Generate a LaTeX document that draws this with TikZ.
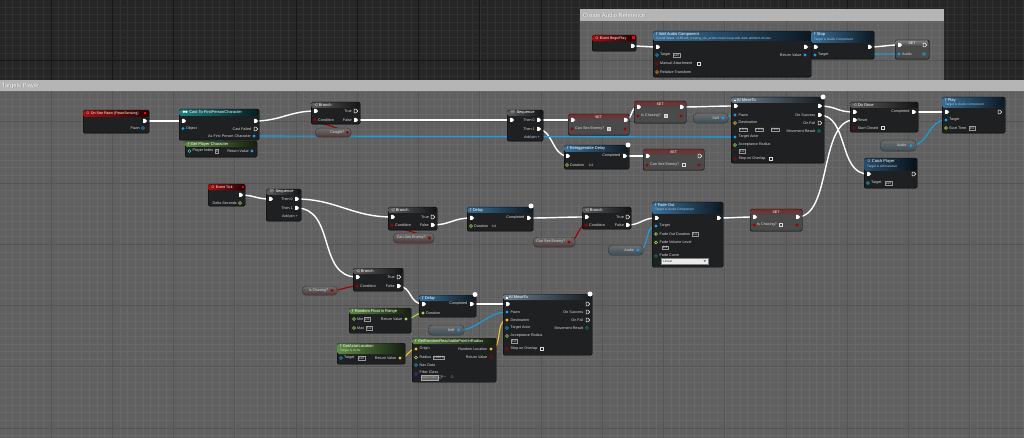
\documentclass[tikz,border=0pt]{standalone}
\usepackage{fontspec}
\setmainfont{Liberation Sans}
\usetikzlibrary{shapes.symbols,calc}
\pgfdeclarelayer{bg}
\pgfdeclarelayer{wires}
\pgfsetlayers{bg,wires,main}
\definecolor{bgdark}{HTML}{262626}
\definecolor{gminorc}{HTML}{313131}
\definecolor{gmajorc}{HTML}{171717}
\definecolor{cmttitle}{HTML}{B5B5B5}
\definecolor{nodebg}{HTML}{1B1C1E}
\definecolor{evred}{HTML}{A01212}
\definecolor{fnblue}{HTML}{3A6E96}
\definecolor{puregreen}{HTML}{5E8A45}
\definecolor{castteal}{HTML}{1E7D80}
\definecolor{macgray}{HTML}{5A5A5A}
\definecolor{latgray}{HTML}{6A7E8E}
\definecolor{setgray}{HTML}{4A4A4A}
\definecolor{setred}{HTML}{7A2A2A}
\definecolor{pilltop}{HTML}{6E6E6E}
\definecolor{pillbot}{HTML}{404040}
\definecolor{lbgray}{HTML}{DADADA}
\definecolor{subblue}{HTML}{A8CCE6}
\definecolor{subgreen}{HTML}{C4E0B0}
\definecolor{boolred}{HTML}{A00000}
\definecolor{objblue}{HTML}{16A0E8}
\definecolor{floatgreen}{HTML}{9EE04C}
\definecolor{vecyel}{HTML}{F2C420}
\definecolor{intteal}{HTML}{20D8A8}
\definecolor{enumteal}{HTML}{008070}
\definecolor{transor}{HTML}{F08A20}
\definecolor{classpurple}{HTML}{6A1FC0}
\newcommand\fs[1]{\fontsize{#1}{#1}\selectfont}
\newcommand\sqicon{\rule{1.8pt}{1.8pt}}
\tikzset{
 nbody/.style={draw=black, fill=nodebg, fill opacity=0.94, rounded corners=1.5pt, inner sep=0, line width=0.4pt},
 setbody/.style={draw=black, fill=setgray, rounded corners=1.5pt, inner sep=0, line width=0.4pt},
 pillbody/.style={draw=black!80, line width=0.4pt, top color=pilltop, rounded corners=4pt, inner sep=0},
 xpin/.style={signal, signal to=east, signal from=nowhere, fill=white, inner sep=0, minimum width=4pt, minimum height=4pt},
 xpino/.style={signal, signal to=east, signal from=nowhere, draw=white, line width=0.45pt, inner sep=0, minimum width=3.6pt, minimum height=3.6pt},
 dpin/.style={circle, fill=#1, inner sep=0, minimum size=3.2pt},
 dpino/.style={circle, draw=#1, line width=0.55pt, inner sep=0, minimum size=2.8pt},
 clk/.style={circle, fill=white, inner sep=0, minimum size=5pt},
 ttl/.style={font=\fs{4}, text=white, anchor=west, inner sep=0},
 sub/.style={font=\fs{3.2}, text=subblue, anchor=west, inner sep=0},
 lb/.style={font=\fs{3.7}, text=lbgray, anchor=west, inner sep=0},
 lbr/.style={font=\fs{3.7}, text=lbgray, anchor=east, inner sep=0},
 vbox/.style={draw=gray!80, line width=0.35pt, font=\fs{3.2}, text=lbgray, inner xsep=0.8pt, inner ysep=0.6pt, anchor=west},
 cbox/.style={draw=lbgray, line width=0.4pt, inner sep=0, minimum size=2.8pt},
 cboxc/.style={cbox, fill=gray!60},
 ctitle/.style={font=\fs{5.8}, text=white, anchor=west, inner sep=0},
 cshadow/.style={font=\fs{5.8}, text=black!55, anchor=west, inner sep=0},
 ew/.style={draw=white, line width=1.4pt},
 dw/.style={draw=#1, line width=1.1pt},
 wire/.style={to path={.. controls ($(\tikztostart)+(#1,0)$) and ($(\tikztotarget)-(#1,0)$) .. (\tikztotarget)}},
 wire/.default=20,
 gminor/.style={draw=gminorc, line width=0.5pt},
 gmajor/.style={draw=gmajorc, line width=0.8pt},
}
% node with coloured header: name x y w h headerheight colour
\newcommand\bp[7]{%
 \node[nbody,minimum width=#4pt,minimum height=#5pt,anchor=north west] (#1) at (#2,#3) {};
 \shade[left color=#7,right color=#7!22!black,rounded corners=1.5pt] ({#2+0.3},{#3+0.3}) rectangle ({#2+#4-0.3},{#3+#6});}
% SET node: name x y w h glow
\newcommand\setn[6]{%
 \node[setbody,minimum width=#4pt,minimum height=#5pt,anchor=north west] (#1) at (#2,#3) {};
 \shade[top color=#6,bottom color=setgray,rounded corners=1.5pt] ({#2+0.3},{#3+0.3}) rectangle ({#2+#4-0.3},{#3+6});
 \node[font=\fs{3.6},text=white,inner sep=0] at ({#2+#4/2},{#3+3.3}) {SET};}
% variable getter: name x y w h glow
\newcommand\pill[6]{%
 \node[pillbody,bottom color=#6!14!pillbot,minimum width=#4pt,minimum height=#5pt,anchor=north west] (#1) at (#2,#3) {};}
\begin{document}
\begin{tikzpicture}[x=1pt,y=-1pt]
\useasboundingbox (0,0) rectangle (1024,438);
\begin{pgfonlayer}{bg}
\fill[bgdark] (0,0) rectangle (1024,438);
\foreach \i in {0,...,135} {\draw[gminor] ({-10.25+7.65625*\i},0) -- ({-10.25+7.65625*\i},438);}
\foreach \i in {0,...,58} {\draw[gminor] (0,{-0.75+7.65625*\i}) -- (1024,{-0.75+7.65625*\i});}
\foreach \i in {0,...,17} {\draw[gmajor] ({-10.25+61.25*\i},0) -- ({-10.25+61.25*\i},438);}
\foreach \i in {0,...,8} {\draw[gmajor] (0,{-0.75+61.25*\i}) -- (1024,{-0.75+61.25*\i});}
% comments
\fill[white,opacity=0.27] (580,21) rectangle (944,80);
\fill[cmttitle] (580,9) rectangle (944,21);
\node[cshadow] at (583.5,15.7) {Create Audio Reference};
\node[ctitle] (cmt1) at (583,15.2) {Create Audio Reference};
\fill[white,opacity=0.27] (0,91) rectangle (1024,438);
\fill[cmttitle] (0,80) rectangle (1024,91);
\node[cshadow] at (2.5,86.5) {Targets Player};
\node[ctitle] (cmt2) at (2,86) {Targets Player};
\end{pgfonlayer}

% ================= Create Audio Reference =================
\bp{beginplay}{592}{35}{44}{16}{6.5}{evred}
\node[ttl] at (595,38.4) {\fs{3.6}$\circ$ Event BeginPlay};
\fill[red] (632.2,36.3) rectangle (634.6,38.7);
\node[xpin] (bp-out) at (632,46) {};

\bp{addaudio}{653}{31}{158}{46}{10}{fnblue}
\node[ttl] at (656,34) {\textit{f} Add Audio Component};
\node[sub] at (656,38.6) {Sound Wave: 1185146\_looping\_ule\_action-music-loop-with-dark-ambient-drones};
\node[xpin] (aa-in) at (657,47) {};
\node[xpin] (aa-out) at (805,47) {};
\node[dpino=objblue] (aa-tgt) at (657,55) {};
\node[lb] at (660,55) {Target};
\node[vbox] at (673,55) {self};
\node[dpin=objblue] (aa-ret) at (805,55) {};
\node[lbr] at (801.5,55) {Return Value};
\node[dpino=boolred] (aa-man) at (657,63.5) {};
\node[lb] at (660,63.5) {Manual Attachment};
\node[cbox] at (699,63.5) {};
\node[dpino=transor] (aa-rel) at (657,72) {};
\node[lb] at (660,72) {Relative Transform};

\bp{stop}{811}{31}{63}{28}{12}{fnblue}
\node[ttl] at (814,34.3) {\textit{f} Stop};
\node[sub] at (814,39.3) {Target is Audio Component};
\node[xpin] (st-in) at (815,47) {};
\node[xpin] (st-out) at (869,47) {};
\node[dpin=objblue] (st-tgt) at (815,55) {};
\node[lb] at (818,55) {Target};

\setn{setaudio}{895}{40}{34}{19}{gray}
\node[xpin] (sa-in) at (899,45) {};
\node[xpino] (sa-out) at (924,45) {};
\node[dpin=objblue] (sa-aud) at (899,54) {};
\node[lb] at (902,54) {Audio};
\node[dpino=objblue] (sa-aout) at (924,54) {};

% ================= Targets Player =================
\bp{seepawn}{83}{110}{66}{23}{7}{evred}
\node[ttl] at (86,113.5) {\fs{3.6}$\circ$ On See Pawn (PawnSensing)};
\fill[red] (144,111.8) rectangle (146.4,114.2);
\node[xpin] (sp-out) at (144,121) {};
\node[dpino=objblue] (sp-pawn) at (143,128) {};
\node[lbr] at (140,128) {Pawn};

\bp{cast}{179}{109}{80}{31}{7}{castteal}
\node[ttl] at (182,112.5) {\fs{3.4}$\bullet\!\bullet$ \fs{4}Cast To FirstPersonCharacter};
\node[xpin] (c-in) at (183,121) {};
\node[xpin] (c-out) at (255,121) {};
\node[dpin=objblue] (c-obj) at (183,128.5) {};
\node[lb] at (186,128.5) {Object};
\node[xpino] (c-fail) at (255,129) {};
\node[lbr] at (251.5,129) {Cast Failed};
\node[dpin=objblue] (c-as) at (254,136) {};
\node[lbr] at (251,136) {As First Person Character};

\bp{gpc}{185}{141}{72}{16}{6}{puregreen}
\node[ttl] at (188,144) {\textit{f} Get Player Character};
\node[dpino=intteal] (gpc-idx) at (189.5,151) {};
\node[lb] at (192.5,151) {Player Index};
\node[vbox] at (215,151) {0};
\node[dpin=objblue] (gpc-ret) at (252,151) {};
\node[lbr] at (249,151) {Return Value};

\bp{br1}{311}{102}{49}{22}{6}{macgray}
\node[ttl] at (314,105) {\fs{3.4}$\triangleleft$ \fs{4}Branch};
\node[xpin] (b1-in) at (315,111) {};
\node[xpino] (b1-true) at (355,111) {};
\node[lbr] at (352,111) {True};
\node[dpin=boolred] (b1-cond) at (315,120) {};
\node[lb] at (318,120) {Condition};
\node[xpin] (b1-false) at (355,120) {};
\node[lbr] at (352,120) {False};

\pill{caught}{315}{128}{36}{9}{boolred}
\node[lbr] at (344.5,132.5) {Caught?};
\node[dpin=boolred] (ca-pin) at (347.5,132.5) {};

\bp{seq1}{507}{110}{36}{31}{6}{macgray}
\node[ttl] at (510,113) {\fs{3.4}$\equiv$ \fs{4}Sequence};
\node[xpin] (s1-in) at (511,120) {};
\node[xpin] (s1-t0) at (538,120) {};
\node[lbr] at (535,120) {Then 0};
\node[xpin] (s1-t1) at (538,129) {};
\node[lbr] at (535,129) {Then 1};
\node[lbr] at (540,138) {Add pin +};

\setn{setcse1}{568}{114}{61}{21}{setred}
\node[xpin] (sc1-in) at (572,120) {};
\node[xpin] (sc1-out) at (625,120) {};
\node[dpin=boolred] (sc1-v) at (572,129) {};
\node[lb] at (575,129) {Can See Enemy?};
\node[cboxc] at (609,129) {};
\node[dpin=boolred] (sc1-vout) at (625,129) {};

\setn{setic1}{634}{101}{52}{22}{setred}
\node[xpin] (si1-in) at (638,107) {};
\node[xpin] (si1-out) at (681,107) {};
\node[dpin=boolred] (si1-v) at (638,116) {};
\node[lb] at (641,116) {Is Chasing?};
\node[cboxc] at (666,116) {};
\node[dpin=boolred] (si1-vout) at (681,116) {};

\pill{self1}{693}{113}{35}{10}{objblue}
\node[lbr] at (719,118) {Self};
\node[dpin=objblue] (self1-pin) at (723,118) {};

\bp{ai1}{731}{97}{93}{66}{6}{latgray}
\node[ttl] at (734,100) {\fs{3.4}\sqicon\ \fs{4}AI MoveTo};
\node[clk] (ai1-clk) at (823,97) {};
\node[xpin] (a1-in) at (735,106) {};
\node[xpin] (a1-out) at (819,106) {};
\node[dpin=objblue] (a1-pawn) at (735,115) {};
\node[lb] at (738.5,115) {Pawn};
\node[xpin] (a1-succ) at (819,115) {};
\node[lbr] at (815.5,115) {On Success};
\node[dpino=vecyel] (a1-dest) at (735,123) {};
\node[lb] at (738.5,122.5) {Destination};
\node[vbox] at (738.5,129.5) {X\,0.0};
\node[vbox] at (754.5,129.5) {Y\,0.0};
\node[vbox] at (770.5,129.5) {Z\,0.0};
\node[xpino] (a1-fail) at (819,123) {};
\node[lbr] at (815.5,123) {On Fail};
\node[dpin=objblue] (a1-tact) at (735,137) {};
\node[lb] at (738.5,137) {Target Actor};
\node[dpino=enumteal] (a1-mres) at (819,131) {};
\node[lbr] at (815.5,131) {Movement Result};
\node[dpino=floatgreen] (a1-acc) at (735,145) {};
\node[lb] at (738.5,144.5) {Acceptance Radius};
\node[vbox] at (739,151) {5.0};
\node[dpino=boolred] (a1-stop) at (735,159) {};
\node[lb] at (738.5,159) {Stop on Overlap};
\node[cbox] at (771,159) {};

\bp{rdelay}{564}{145}{65}{24}{7}{fnblue}
\node[ttl] at (567,148.5) {\textit{f} Retriggerable Delay};
\node[clk] (rd-clk) at (628,145) {};
\node[xpin] (rd-in) at (567,156) {};
\node[xpin] (rd-comp) at (624,156) {};
\node[lbr] at (620.5,156) {Completed};
\node[dpino=floatgreen] (rd-dur) at (567,165) {};
\node[lb] at (570,165) {Duration};
\node[vbox,draw=none] at (588,165) {0.6};

\setn{setcse2}{643}{149}{61}{21}{setred}
\node[xpin] (sc2-in) at (647,156) {};
\node[xpino] (sc2-out) at (699,156) {};
\node[dpin=boolred] (sc2-v) at (647,165) {};
\node[lb] at (650,165) {Can See Enemy?};
\node[cbox] at (684,165) {};
\node[dpin=boolred] (sc2-vout) at (699,165) {};

\bp{doonce}{850}{102}{68}{30}{6}{macgray}
\node[ttl] at (853,104.8) {\fs{3.4}$\triangleleft$ \fs{4}Do Once};
\node[xpin] (do-in) at (854,112) {};
\node[xpin] (do-comp) at (913,112) {};
\node[lbr] at (909.5,112) {Completed};
\node[xpin] (do-reset) at (854,120) {};
\node[lb] at (857.5,120) {Reset};
\node[dpino=boolred] (do-sc) at (854,128) {};
\node[lb] at (857.5,128) {Start Closed};
\node[cbox] at (883,128) {};

\bp{play}{942}{97}{63}{36}{11}{fnblue}
\node[ttl] at (945,100.3) {\textit{f} Play};
\node[sub] at (945,105) {Target is Audio Component};
\node[xpin] (pl-in) at (946,112) {};
\node[xpino] (pl-out) at (999,112) {};
\node[dpin=objblue] (pl-tgt) at (946,120) {};
\node[lb] at (949,120) {Target};
\node[dpino=floatgreen] (pl-st) at (946,128) {};
\node[lb] at (949,128) {Start Time};
\node[vbox] at (969,128) {0.0};

\pill{audio1}{880}{140}{36}{11}{objblue}
\node[lbr] at (906.5,145.5) {Audio};
\node[dpin=objblue] (au1-pin) at (911,145.5) {};

\bp{catch}{864}{158}{53}{30}{13}{fnblue!70!black}
\node[ttl] at (867,161.5) {\fs{3.6}$\circ$ \fs{4}Catch Player};
\node[sub] at (867,166.5) {Target is AICharacter};
\node[xpin] (cp-in) at (868,174) {};
\node[xpino] (cp-out) at (913,174) {};
\node[dpino=objblue] (cp-tgt) at (868,183) {};
\node[lb] at (871,183) {Target};
\node[vbox] at (885,183) {self};

% lower chain
\bp{tick}{208}{184}{37}{22}{6.5}{evred}
\node[ttl] at (211,187.5) {\fs{3.6}$\circ$ Event Tick};
\fill[red] (241.5,185.6) rectangle (243.9,188);
\node[xpin] (tk-out) at (240,195) {};
\node[dpino=floatgreen] (tk-ds) at (240,203) {};
\node[lbr] at (237,203) {Delta Seconds};

\bp{seq2}{266}{189}{35}{32}{6}{macgray}
\node[ttl] at (269,192) {\fs{3.4}$\equiv$ \fs{4}Sequence};
\node[xpin] (s2-in) at (270,199) {};
\node[xpin] (s2-t0) at (296,199) {};
\node[lbr] at (293,199) {Then 0};
\node[xpin] (s2-t1) at (296,208) {};
\node[lbr] at (293,208) {Then 1};
\node[lbr] at (298,216.5) {Add pin +};

\bp{br2}{388}{207}{49}{23}{6}{macgray}
\node[ttl] at (391,210) {\fs{3.4}$\triangleleft$ \fs{4}Branch};
\node[xpin] (b2-in) at (392,217) {};
\node[xpino] (b2-true) at (432,217) {};
\node[lbr] at (429,217) {True};
\node[dpin=boolred] (b2-cond) at (392,225) {};
\node[lb] at (395,225) {Condition};
\node[xpin] (b2-false) at (432,225) {};
\node[lbr] at (429,225) {False};

\pill{cse1}{393}{233}{41}{10}{boolred}
\node[lbr] at (426,238) {Can See Enemy?};
\node[dpin=boolred] (cse1-pin) at (429.5,238) {};

\bp{delay1}{467}{207}{66}{24}{6}{fnblue}
\node[ttl] at (470,210) {\textit{f} Delay};
\node[clk] (d1-clk) at (531,206) {};
\node[xpin] (d1-in) at (471,218) {};
\node[xpin] (d1-comp) at (528,218) {};
\node[lbr] at (524.5,218) {Completed};
\node[dpino=floatgreen] (d1-dur) at (471,226) {};
\node[lb] at (474,226) {Duration};
\node[vbox,draw=none] at (491,226) {0.6};

\pill{cse2}{533}{237}{42}{10}{boolred}
\node[lbr] at (565.5,242) {Can See Enemy?};
\node[dpin=boolred] (cse2-pin) at (569,242) {};

\bp{br3}{582}{207}{49}{22}{6}{macgray}
\node[ttl] at (585,210) {\fs{3.4}$\triangleleft$ \fs{4}Branch};
\node[xpin] (b3-in) at (586,217) {};
\node[xpino] (b3-true) at (627,217) {};
\node[lbr] at (624,217) {True};
\node[dpin=boolred] (b3-cond) at (586,225) {};
\node[lb] at (589,225) {Condition};
\node[xpin] (b3-false) at (627,225) {};
\node[lbr] at (624,225) {False};

\pill{audio2}{608}{245}{35}{10}{objblue}
\node[lbr] at (634,250) {Audio};
\node[dpin=objblue] (au2-pin) at (638,250) {};

\bp{fade}{652}{202}{71}{65}{12}{fnblue}
\node[ttl] at (655,205.3) {\textit{f} Fade Out};
\node[sub] at (655,210) {Target is Audio Component};
\node[xpin] (fo-in) at (656,218) {};
\node[xpin] (fo-out) at (718,218) {};
\node[dpin=objblue] (fo-tgt) at (656,226) {};
\node[lb] at (659.5,226) {Target};
\node[dpino=floatgreen] (fo-dur) at (656,234) {};
\node[lb] at (659.5,234) {Fade Out Duration};
\node[vbox] at (692,234) {5.0};
\node[dpino=floatgreen] (fo-vol) at (656,242.5) {};
\node[lb] at (659.5,241.8) {Fade Volume Level};
\node[vbox] at (662,247.8) {0.0};
\node[dpino=enumteal] (fo-curve) at (656,256) {};
\node[lb] at (659.5,255.3) {Fade Curve};
\node[draw=gray,fill=black!8,line width=0.3pt,minimum width=47pt,minimum height=6pt,inner sep=0,anchor=north west] (fo-dd) at (661,258) {};
\node[font=\fs{3.2},text=black!85,anchor=west,inner sep=0] at (663,261) {Linear};
\fill[black!70] (703.5,260.3) -- (706.3,260.3) -- (704.9,261.8) -- cycle;

\setn{setic2}{750}{209}{52}{22}{setred}
\node[xpin] (si2-in) at (754,217) {};
\node[xpin] (si2-out) at (797,217) {};
\node[dpin=boolred] (si2-v) at (754,225) {};
\node[lb] at (757,225) {Is Chasing?};
\node[cbox] at (781,225) {};
\node[dpin=boolred] (si2-vout) at (797,225) {};

\bp{br4}{353}{268}{50}{23}{6}{macgray}
\node[ttl] at (356,271) {\fs{3.4}$\triangleleft$ \fs{4}Branch};
\node[xpin] (b4-in) at (357,277) {};
\node[xpino] (b4-true) at (398,277) {};
\node[lbr] at (395,277) {True};
\node[dpin=boolred] (b4-cond) at (357,286) {};
\node[lb] at (360,286) {Condition};
\node[xpin] (b4-false) at (398,286) {};
\node[lbr] at (395,286) {False};

\pill{ischase}{302}{286}{35}{9}{boolred}
\node[lbr] at (328.5,290.5) {Is Chasing?};
\node[dpin=boolred] (ic-pin) at (332,290.5) {};

\bp{delay2}{419}{295}{57}{22}{6}{fnblue}
\node[ttl] at (422,298) {\textit{f} Delay};
\node[clk] (d2-clk) at (475,294.5) {};
\node[xpin] (d2-in) at (423,304) {};
\node[xpin] (d2-comp) at (471,304) {};
\node[lbr] at (467.5,304) {Completed};
\node[dpin=floatgreen] (d2-dur) at (423,313) {};
\node[lb] at (426,313) {Duration};

\bp{rfr}{349}{308}{62}{25}{6}{puregreen}
\node[ttl] at (352,311) {\textit{f} Random Float in Range};
\node[dpino=floatgreen] (rf-min) at (354,319) {};
\node[lb] at (357,319) {Min};
\node[vbox] at (364,319) {2.0};
\node[dpino=floatgreen] (rf-max) at (354,328) {};
\node[lb] at (357,328) {Max};
\node[vbox] at (366,328) {5.0};
\node[dpin=floatgreen] (rf-ret) at (406,319) {};
\node[lbr] at (402.5,319) {Return Value};

\pill{self2}{428}{325}{36}{10}{objblue}
\node[lbr] at (454.5,330) {Self};
\node[dpin=objblue] (self2-pin) at (458.5,330) {};

\bp{ai2}{503}{294}{89}{61}{6}{latgray}
\node[ttl] at (506,297.3) {\fs{3.4}\sqicon\ \fs{4}AI MoveTo};
\node[clk] (ai2-clk) at (590,294) {};
\node[xpin] (a2-in) at (507,304) {};
\node[xpino] (a2-out) at (587,304) {};
\node[dpin=objblue] (a2-pawn) at (507,312) {};
\node[lb] at (510.5,312) {Pawn};
\node[xpino] (a2-succ) at (587,312) {};
\node[lbr] at (583.5,312) {On Success};
\node[dpin=vecyel] (a2-dest) at (507,320) {};
\node[lb] at (510.5,320) {Destination};
\node[xpino] (a2-fail) at (587,320) {};
\node[lbr] at (583.5,320) {On Fail};
\node[dpino=objblue] (a2-tact) at (507,328) {};
\node[lb] at (510.5,328) {Target Actor};
\node[dpino=enumteal] (a2-mres) at (587,328) {};
\node[lbr] at (583.5,328) {Movement Result};
\node[dpino=floatgreen] (a2-acc) at (507,336) {};
\node[lb] at (510.5,335.5) {Acceptance Radius};
\node[vbox] at (511,341.3) {5.0};
\node[dpino=boolred] (a2-stop) at (507,349) {};
\node[lb] at (510.5,349) {Stop on Overlap};
\node[cbox] at (542,349) {};

\bp{gal}{337}{343}{68}{21}{11}{puregreen}
\node[ttl] at (340,346) {\textit{f} GetActorLocation};
\node[sub,text=subgreen] at (340,350.6) {Target is Actor};
\node[dpino=objblue] (gl-tgt) at (341,358) {};
\node[lb] at (344,358) {Target};
\node[vbox] at (358,358) {self};
\node[dpin=vecyel] (gl-ret) at (400,358) {};
\node[lbr] at (396.5,358) {Return Value};

\bp{grrp}{412}{338}{84}{44}{6}{puregreen}
\node[ttl] at (415,341) {\textit{f} GetRandomReachablePointInRadius};
\node[dpin=vecyel] (gr-org) at (416,349) {};
\node[lb] at (419.5,349) {Origin};
\node[dpin=vecyel] (gr-rl) at (491,349) {};
\node[lbr] at (487.5,349) {Random Location};
\node[dpino=floatgreen] (gr-rad) at (416,357.5) {};
\node[lb] at (419.5,357.5) {Radius};
\node[vbox] at (433,357.5) {2000.0};
\node[dpino=boolred] (gr-ret) at (491,357) {};
\node[lbr] at (487.5,357) {Return Value};
\node[dpino=objblue] (gr-nav) at (416,365) {};
\node[lb] at (419.5,365) {Nav Data};
\node[dpino=classpurple] (gr-fc) at (416,374) {};
\node[lb] at (419.5,372) {Filter Class};
\node[draw=gray!70,fill=black!60,line width=0.3pt,minimum width=17pt,minimum height=4.5pt,inner sep=0,anchor=north west] (gr-dd) at (421,375) {};
\node[font=\fs{2.6},text=gray!60!white,anchor=west,inner sep=0] at (422,377.3) {Select Class $\bigtriangledown$};
\node[font=\fs{3},text=gray!70!white,anchor=west,inner sep=0] at (440,377.3) {$\leftarrow\,\circ$};

% ================= wires =================
\begin{pgfonlayer}{wires}
\draw[ew] (bp-out.center) to[wire=10] (aa-in.center);
\draw[ew] (aa-out.center) to[wire=5] (st-in.center);
\draw[ew] (st-out.center) to[wire=12] (sa-in.center);
\draw[dw=objblue] (aa-ret.center) to[wire=4] (st-tgt.center);
\draw[dw=objblue] (aa-ret.center) to[wire=10] (sa-aud.center);

\draw[ew] (sp-out.center) to[wire=15] (c-in.center);
\draw[ew] (c-out.center) to[wire=25] (b1-in.center);
\draw[ew] (b1-false.center) to[wire=40] (s1-in.center);
\draw[ew] (s1-t0.center) to[wire=12] (sc1-in.center);
\draw[ew] (sc1-out.center) to[wire=8] (si1-in.center);
\draw[ew] (si1-out.center) to[wire=20] (a1-in.center);
\draw[ew] (s1-t1.center) to[wire=14] (rd-in.center);
\draw[ew] (rd-comp.center) to[wire=10] (sc2-in.center);
\draw[ew] (a1-out.center) to[wire=18] (do-in.center);
\draw[ew] (a1-succ.center) to[wire=30] (cp-in.center);
\draw[ew] (do-comp.center) to[wire=15] (pl-in.center);
\draw[dw=objblue] (gpc-ret.center) to[wire=12] (c-obj.center);
\draw[dw=boolred] (ca-pin.center) to[wire=6] (b1-cond.center);
\draw[dw=objblue] (c-as.center) to[wire=20] (a1-tact.center);
\draw[dw=objblue] (self1-pin.center) to[wire=6] (a1-pawn.center);
\draw[dw=objblue] (au1-pin.center) to[wire=18] (pl-tgt.center);

\draw[ew] (tk-out.center) to[wire=15] (s2-in.center);
\draw[ew] (s2-t0.center) to[wire=40] (b2-in.center);
\draw[ew] (s2-t1.center) to[wire=40] (b4-in.center);
\draw[ew] (b2-false.center) to[wire=18] (d1-in.center);
\draw[ew] (d1-comp.center) to[wire=25] (b3-in.center);
\draw[ew] (b3-false.center) to[wire=14] (fo-in.center);
\draw[ew] (fo-out.center) to[wire=15] (si2-in.center);
\draw[ew] (si2-out.center) to[wire=35] (do-reset.center);
\draw[ew] (b4-false.center) to[wire=14] (d2-in.center);
\draw[ew] (d2-comp.center) to[wire=15] (a2-in.center);
\draw[dw=boolred] (cse1-pin.center) to[wire=6] (b2-cond.center);
\draw[dw=boolred] (cse2-pin.center) to[wire=8] (b3-cond.center);
\draw[dw=objblue] (au2-pin.center) to[wire=12] (fo-tgt.center);
\draw[dw=boolred] (ic-pin.center) to[wire=8] (b4-cond.center);
\draw[dw=floatgreen] (rf-ret.center) to[wire=8] (d2-dur.center);
\draw[dw=objblue] (self2-pin.center) to[wire=20] (a2-pawn.center);
\draw[dw=vecyel] (gl-ret.center) to[wire=8] (gr-org.center);
\draw[dw=vecyel] (gr-rl.center) to[wire=12] (a2-dest.center);
\end{pgfonlayer}
\end{tikzpicture}
\end{document}
